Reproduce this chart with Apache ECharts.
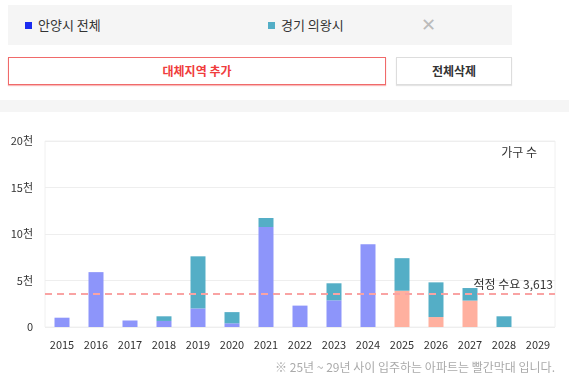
<!DOCTYPE html>
<html>
<head>
<meta charset="utf-8">
<script src="https://cdn.jsdelivr.net/npm/echarts@6/dist/echarts.min.js"></script>
<style>
  body { margin: 0; width: 569px; height: 379px; background: #fff; font-family: "Noto Sans CJK KR", "Noto Sans", sans-serif; position: relative; overflow: hidden; }
  .panel { position: absolute; left: 8px; top: 5px; width: 504px; height: 40px; background: #f5f5f5; }
  .lg { position: absolute; top: 11px; font-size: 13px; color: #333; line-height: 18px; }
  .lg i { display: inline-block; width: 7px; height: 7px; margin-right: 6px; vertical-align: 1px; }
  .close { position: absolute; left: 413px; top: 8px; font-size: 18px; color: #bbb; line-height: 20px; }
  .btn { position: absolute; top: 57px; height: 28px; box-sizing: border-box; font-size: 12px; font-weight: bold; text-align: center; line-height: 26px; background: #fff; }
  .btn.add { left: 8px; width: 378px; border: 1px solid #f06a6a; color: #f03c3c; box-shadow: 0 1px 1px rgba(240,80,80,0.4); }
  .btn.del { left: 396px; width: 116px; border: 1px solid #ddd; color: #333; box-shadow: 0 1px 1px rgba(0,0,0,0.1); }
  .sep { position: absolute; left: 0; top: 100px; width: 569px; height: 12px; background: #f5f5f5; }
  #chart { position: absolute; left: 0; top: 112px; width: 569px; height: 267px; }
</style>
</head>
<body>
<div class="panel">
  <div class="lg" style="left:17px"><i style="background:#1b2cf0"></i>안양시 전체</div>
  <div class="lg" style="left:260px"><i style="background:#53aec6"></i>경기 의왕시</div>
  <div class="close">✕</div>
</div>
<div class="btn add">대체지역 추가</div>
<div class="btn del">전체삭제</div>
<div class="sep"></div>
<div id="chart"></div>
<script>
var years = ['2015', '2016', '2017', '2018', '2019', '2020', '2021', '2022', '2023', '2024', '2025', '2026', '2027', '2028', '2029'];
var anyang = [1000, 5900, 700, 650, 2000, 400, 10750, 2300, 2870, 8900, 3900, 1070, 2840, 0, 0];
var uiwang = [0, 0, 0, 500, 5600, 1200, 970, 0, 1830, 0, 3500, 3730, 1350, 1150, 0];
var demand = 3613;
var futureFrom = 2025;

var chart = echarts.init(document.getElementById('chart'));
var font = '"Noto Sans CJK KR", "Noto Sans", sans-serif';

var anyangData = anyang.map(function (v, i) {
    return {
        value: v,
        itemStyle: { color: Number(years[i]) >= futureFrom ? '#ffb09f' : '#8d95fa' }
    };
});

var options = {
    animation: false,
    textStyle: { fontFamily: font },
    grid: {
        left: 45, right: 14, top: 29, bottom: 52,
        show: true, borderColor: '#f0f0f0', borderWidth: 1
    },
    xAxis: {
        type: 'category',
        data: years,
        axisLine: { show: false },
        axisTick: { show: false },
        axisLabel: { color: '#333', fontSize: 11, margin: 12 }
    },
    yAxis: {
        type: 'value',
        min: 0,
        max: 20000,
        interval: 5000,
        axisLabel: {
            color: '#333', fontSize: 11, margin: 12,
            formatter: function (v) { return v === 0 ? '0' : (v / 1000) + '천'; }
        },
        splitLine: { lineStyle: { color: '#eeeeee' } }
    },
    series: [{
        name: '안양시 전체',
        type: 'bar',
        stack: 'total',
        barWidth: 15,
        data: anyangData,
        markLine: {
            silent: true,
            symbol: 'none',
            data: [{ yAxis: demand }],
            lineStyle: { color: '#f9a3a3', type: [7, 5], width: 2 },
            label: {
                position: 'insideEndTop',
                formatter: '적정 수요 3,613',
                color: '#333', fontSize: 12, distance: [2, 3]
            },
            z: 10
        }
    }, {
        name: '경기 의왕시',
        type: 'bar',
        stack: 'total',
        barWidth: 15,
        itemStyle: { color: '#54aec6' },
        data: uiwang
    }],
    graphic: [{
        type: 'text',
        right: 32,
        top: 34,
        style: { text: '가구 수', fill: '#333', fontSize: 12, fontFamily: font }
    }, {
        type: 'text',
        right: 14,
        top: 249,
        style: { text: '※ 25년 ~ 29년 사이 입주하는 아파트는 빨간막대 입니다.', fill: '#aaa', fontSize: 12, fontFamily: font }
    }]
};
chart.setOption(options);
</script>
</body>
</html>
